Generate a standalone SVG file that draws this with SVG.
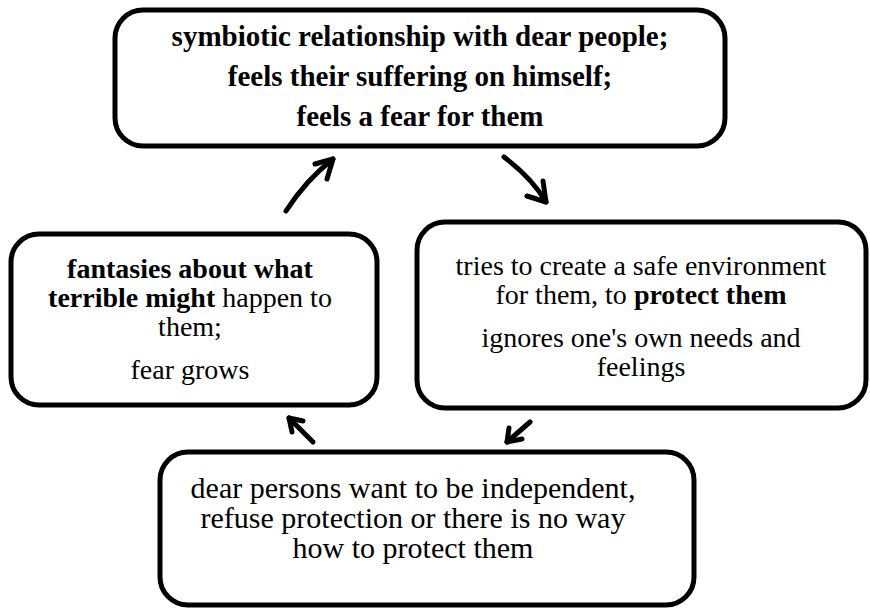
<svg xmlns="http://www.w3.org/2000/svg" width="870" height="610" viewBox="0 0 870 610">
  <style>
    text { font-family: "Times New Roman", "Liberation Serif", "DejaVu Serif", serif; font-size: 29px; fill: #000000; text-anchor: middle; }
    .small { font-size: 28px; }
    .large { font-size: 30px; }
    .box { fill: #ffffff; stroke: #000000; stroke-width: 5; }
    .b { font-weight: bold; }
    .arrow { fill: none; stroke: #000000; stroke-width: 5; stroke-linecap: round; stroke-linejoin: round; }
  </style>
  <rect width="870" height="610" fill="#ffffff"/>

  <g id="node-symbiosis">
    <rect class="box" x="115" y="10" width="610" height="136" rx="28" ry="28"/>
    <text class="b" x="420" y="46">symbiotic relationship with dear people;</text>
    <text class="b" x="420" y="86">feels their suffering on himself;</text>
    <text class="b" x="420" y="126">feels a fear for them</text>
  </g>

  <g id="node-protect">
    <rect class="box" x="417" y="222" width="449" height="186" rx="28" ry="28"/>
    <text class="small" x="641" y="275">tries to create a safe environment</text>
    <text class="small" x="641" y="304">for them, to <tspan class="b">protect them</tspan></text>
    <text class="small" x="641" y="347">ignores one's own needs and</text>
    <text class="small" x="641" y="376">feelings</text>
  </g>

  <g id="node-independence">
    <rect class="box" x="160" y="452" width="534" height="153" rx="28" ry="28"/>
    <text class="large" x="413" y="498">dear persons want to be independent,</text>
    <text class="large" x="413" y="528">refuse protection or there is no way</text>
    <text class="large" x="413" y="558">how to protect them</text>
  </g>

  <g id="node-fantasies">
    <rect class="box" x="11" y="234" width="366" height="171" rx="28" ry="28"/>
    <text class="small b" x="190" y="278">fantasies about what</text>
    <text class="small" x="190" y="307"><tspan class="b">terrible might</tspan> happen to</text>
    <text class="small" x="190" y="336">them;</text>
    <text class="small" x="190" y="379">fear grows</text>
  </g>

  <g id="connectors">
    <!-- fantasies -> symbiosis -->
    <path class="arrow" d="M286,211 Q306,180 333,159"/>
    <path class="arrow" d="M315,164 L333,159 L327,179"/>
    <!-- symbiosis -> protect -->
    <path class="arrow" d="M504,157 Q532,178 546,202"/>
    <path class="arrow" d="M543,181 L546,202 L527,196"/>
    <!-- protect -> independence -->
    <path class="arrow" d="M530,422 L507,442"/>
    <path class="arrow" d="M509,428 L507,442 L522,439"/>
    <!-- independence -> fantasies -->
    <path class="arrow" d="M313,442 L289,418"/>
    <path class="arrow" d="M303,421 L289,418 L292,432"/>
  </g>
</svg>
